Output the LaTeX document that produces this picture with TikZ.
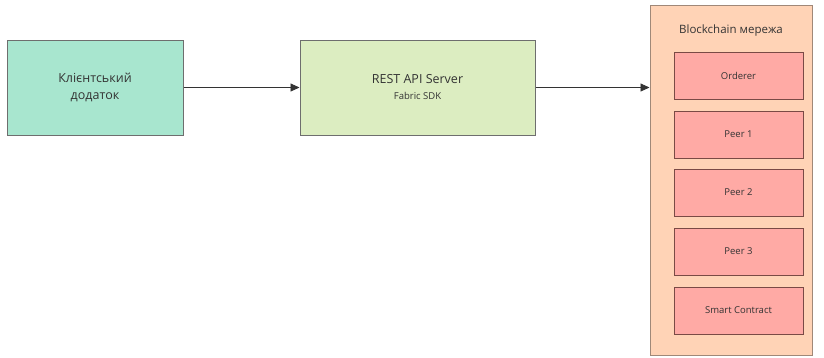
\documentclass[tikz,border=0pt]{standalone}
\usepackage{fontspec}
\setmainfont{Open Sans}
\usetikzlibrary{arrows.meta}
\definecolor{clientfill}{HTML}{A8E6CF}
\definecolor{restfill}{HTML}{DCEDC1}
\definecolor{netfill}{HTML}{FFD3B6}
\definecolor{itemfill}{HTML}{FFAAA5}
\definecolor{boxline}{HTML}{6E6E6E}
\definecolor{netline}{HTML}{A08878}
\definecolor{itemline}{HTML}{7A4A45}
\definecolor{txt}{HTML}{333333}
\tikzset{
  mainbox/.style={draw=boxline, line width=1pt, text=txt, align=center, font=\fontsize{12.5}{17}\selectfont},
  itembox/.style={draw=itemline, fill=itemfill, line width=0.9pt, text=txt, minimum width=129pt, minimum height=47pt, font=\fontsize{9.5}{11}\selectfont},
  conn/.style={draw=txt, line width=0.9pt, -{Triangle[length=9pt,width=8pt]}}
}
\begin{document}
\begin{tikzpicture}[x=1pt,y=-1pt]
\useasboundingbox (0,0) rectangle (824,357);
\node[mainbox, fill=clientfill, minimum width=176pt, minimum height=95pt] (client) at (95,87.5) {Клієнтський\\додаток};
\node[mainbox, fill=restfill, minimum width=235pt, minimum height=95pt] (rest) at (417.5,87.5) {REST API Server\\[-1pt]{\fontsize{9.5}{11}\selectfont Fabric SDK}};
\node[draw=netline, fill=netfill, line width=1pt, minimum width=162pt, minimum height=350pt] (net) at (731,180) {};
\node[text=txt, font=\fontsize{11.5}{13}\selectfont] (title) at (731,31) {Blockchain мережа};
\node[itembox] (orderer) at (738.5,75.5) {Orderer};
\node[itembox] (peer1) at (738.5,134.5) {Peer 1};
\node[itembox] (peer2) at (738.5,192.5) {Peer 2};
\node[itembox] (peer3) at (738.5,251.5) {Peer 3};
\node[itembox] (sc) at (738.5,310.5) {Smart Contract};
\draw[conn] (client.east) -- (rest.west);
\draw[conn] (rest.east) -- (rest.east -| net.west);
\end{tikzpicture}
\end{document}
